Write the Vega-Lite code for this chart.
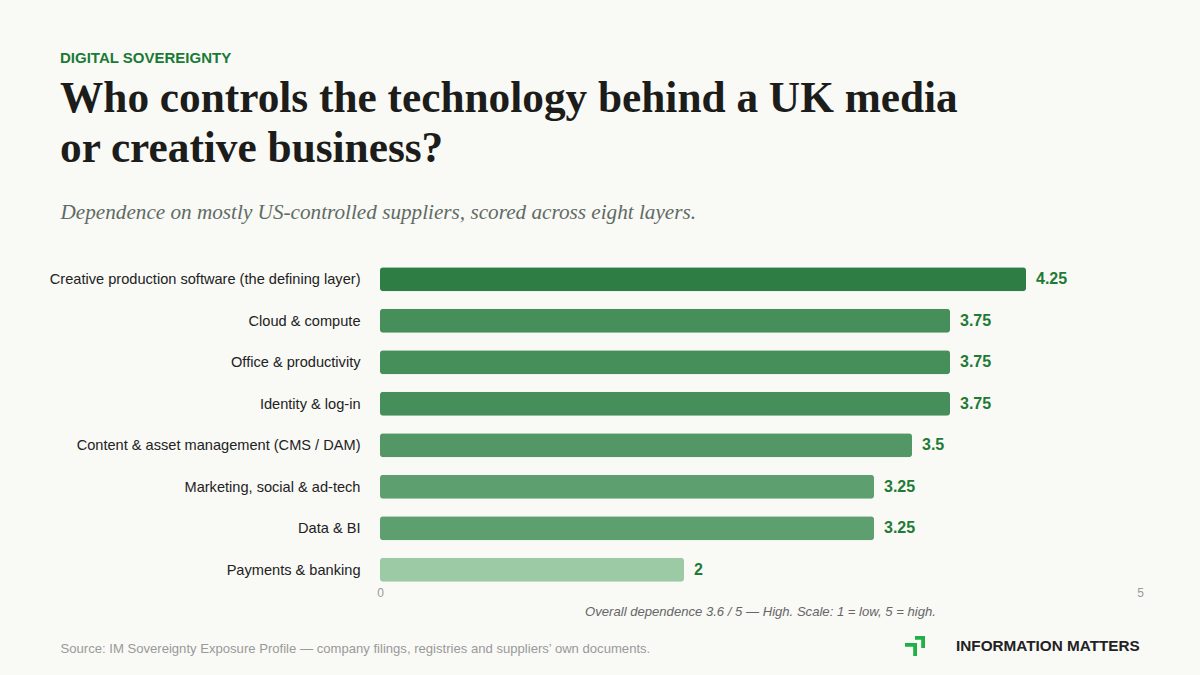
{
  "$schema": "https://vega.github.io/schema/vega-lite/v6.json",
  "width": 760,
  "height": 323,
  "autosize": {"type": "none"},
  "padding": {"left": 380, "top": 263, "right": 60, "bottom": 89},
  "background": "#f9f9f6",
  "title": {
    "text": "DIGITAL SOVEREIGNTY",
    "subtitle": ["Who controls the technology behind a UK media", "or creative business?"],
    "anchor": "start",
    "frame": "group",
    "dx": -320,
    "offset": 31,
    "font": "Liberation Sans",
    "fontSize": 15,
    "fontWeight": "bold",
    "color": "#1a7a35",
    "subtitleFont": "Liberation Serif",
    "subtitleFontSize": 43.3,
    "subtitleFontWeight": "bold",
    "subtitleColor": "#1c1c1a",
    "subtitleLineHeight": 50,
    "subtitlePadding": 12
  },
  "config": {
    "view": {"stroke": null},
    "font": "Liberation Sans"
  },
  "data": {
    "values": [
      {"layer": "Creative production software (the defining layer)", "score": 4.25},
      {"layer": "Cloud & compute", "score": 3.75},
      {"layer": "Office & productivity", "score": 3.75},
      {"layer": "Identity & log-in", "score": 3.75},
      {"layer": "Content & asset management (CMS / DAM)", "score": 3.5},
      {"layer": "Marketing, social & ad-tech", "score": 3.25},
      {"layer": "Data & BI", "score": 3.25},
      {"layer": "Payments & banking", "score": 2}
    ]
  },
  "layer": [
    {
      "mark": {"type": "bar", "cornerRadius": 3},
      "encoding": {
        "y": {
          "field": "layer",
          "type": "nominal",
          "sort": null,
          "scale": {"paddingInner": 0.42, "paddingOuter": 0.1},
          "axis": {
            "title": "Dependence on mostly US-controlled suppliers, scored across eight layers.",
            "titleAngle": 0,
            "titleX": -320,
            "titleY": -45,
            "titleAlign": "left",
            "titleBaseline": "alphabetic",
            "titleFont": "Liberation Serif",
            "titleFontSize": 21.2,
            "titleFontStyle": "italic",
            "titleFontWeight": "normal",
            "titleColor": "#5f6b64",
            "titleLimit": 1000,
            "labelFont": "Liberation Sans",
            "labelFontSize": 14.6,
            "labelColor": "#222222",
            "labelPadding": 20,
            "labelLimit": 500,
            "labelBaseline": "middle",
            "labelOffset": 1,
            "ticks": false,
            "domain": false,
            "grid": false
          }
        },
        "x": {
          "field": "score",
          "type": "quantitative",
          "scale": {"domain": [0, 5], "nice": false, "zero": true},
          "axis": {
            "values": [0, 5],
            "title": "Overall dependence 3.6 / 5 — High. Scale: 1 = low, 5 = high.",
            "titleFont": "Liberation Sans",
            "titleFontSize": 13.1,
            "titleFontStyle": "italic",
            "titleFontWeight": "normal",
            "titleColor": "#666666",
            "titleY": 29,
            "titleBaseline": "alphabetic",
            "labelFont": "Liberation Sans",
            "labelFontSize": 12,
            "labelColor": "#9a9a9a",
            "labelPadding": 1,
            "labelFlush": false,
            "ticks": false,
            "domain": false,
            "grid": false
          }
        },
        "fill": {
          "field": "score",
          "type": "quantitative",
          "scale": {"domain": [2, 4.25], "range": ["#9bcaa4", "#2e7d45"], "interpolate": "rgb"},
          "legend": null
        }
      }
    },
    {
      "mark": {
        "type": "text",
        "align": "left",
        "baseline": "middle",
        "dx": 10,
        "font": "Liberation Sans",
        "fontSize": 16,
        "fontWeight": "bold",
        "color": "#1f7a34"
      },
      "encoding": {
        "y": {"field": "layer", "type": "nominal", "sort": null},
        "x": {
          "field": "score",
          "type": "quantitative",
          "scale": {"domain": [0, 5], "nice": false, "zero": true},
          "axis": {
            "orient": "bottom",
            "labels": false,
            "ticks": false,
            "domain": false,
            "grid": false,
            "title": "Source: IM Sovereignty Exposure Profile — company filings, registries and suppliers’ own documents.",
            "titleX": -320,
            "titleY": 66,
            "titleAlign": "left",
            "titleAnchor": "start",
            "titleBaseline": "alphabetic",
            "titleFont": "Liberation Sans",
            "titleFontSize": 13.1,
            "titleFontWeight": "normal",
            "titleColor": "#9a9a9a",
            "titleLimit": 1000
          }
        },
        "text": {"field": "score", "type": "nominal"}
      }
    },
    {
      "data": {"values": [{"brand": "INFORMATION MATTERS"}]},
      "mark": {"type": "point", "filled": true, "size": 0, "opacity": 1, "color": "#1fb145"},
      "encoding": {
        "shape": {
          "field": "brand",
          "type": "nominal",
          "scale": {"range": ["M0,-1H1V0.2H0.62V-0.62H0Z M-1,-0.3H0.2V1H-0.18V0.08H-1Z"]},
          "legend": {
            "title": null,
            "orient": "none",
            "legendX": 525,
            "legendY": 373,
            "padding": 0,
            "symbolSize": 400,
            "symbolFillColor": "#1fb145",
            "symbolOpacity": 1,
            "symbolStrokeWidth": 0,
            "labelFont": "Liberation Sans",
            "labelFontSize": 15.3,
            "labelFontWeight": "bold",
            "labelColor": "#222222",
            "labelOffset": 31,
            "labelLimit": 400
          }
        }
      }
    }
  ],
  "resolve": {"scale": {"x": "independent"}, "axis": {"x": "independent"}}
}
